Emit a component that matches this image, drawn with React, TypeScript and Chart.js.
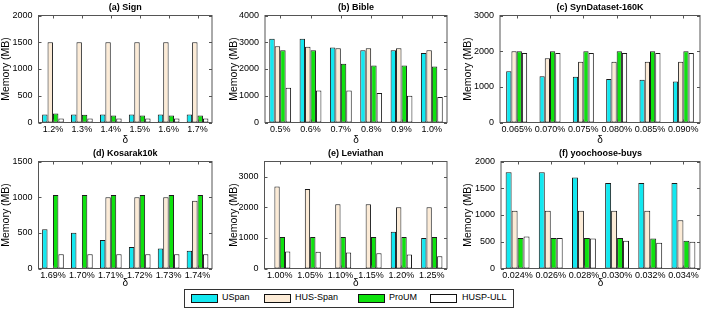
import React, { useEffect, useRef } from 'react';
import { Chart, registerables } from 'chart.js';

Chart.register(...registerables);

const FONT = "'Liberation Sans', Arial, Helvetica, sans-serif";

const seriesNames = ['USpan', 'HUS-Span', 'ProUM', 'HUSP-ULL'];
const seriesColors = ['#12e8f0', '#fcebd6', '#0ee20e', '#ffffff'];

// (a) Sign
const signLabels = ['1.2%', '1.3%', '1.4%', '1.5%', '1.6%', '1.7%'];
const signTicks = [0, 500, 1000, 1500, 2000];
const signUSpan = [150, 150, 150, 150, 150, 150];
const signHUSSpan = [1500, 1500, 1500, 1500, 1500, 1500];
const signProUM = [170, 145, 130, 130, 130, 130];
const signHUSPULL = [75, 75, 75, 75, 75, 75];

// (b) Bible
const bibleLabels = ['0.5%', '0.6%', '0.7%', '0.8%', '0.9%', '1.0%'];
const bibleTicks = [0, 1000, 2000, 3000, 4000];
const bibleUSpan = [3130, 3130, 2800, 2700, 2700, 2600];
const bibleHUSSpan = [2850, 2830, 2780, 2780, 2780, 2700];
const bibleProUM = [2700, 2700, 2200, 2130, 2130, 2090];
const bibleHUSPULL = [1300, 1200, 1200, 1100, 1000, 950];

// (c) SynDataset-160K
const synLabels = ['0.065%', '0.070%', '0.075%', '0.080%', '0.085%', '0.090%'];
const synTicks = [0, 1000, 2000, 3000];
const synUSpan = [1440, 1300, 1280, 1220, 1200, 1150];
const synHUSSpan = [2000, 1800, 1700, 1700, 1700, 1700];
const synProUM = [2000, 2000, 2000, 2000, 2000, 2000];
const synHUSPULL = [1950, 1950, 1950, 1950, 1950, 1950];

// (d) Kosarak10k
const kosLabels = ['1.69%', '1.70%', '1.71%', '1.72%', '1.73%', '1.74%'];
const kosTicks = [0, 500, 1000, 1500];
const kosUSpan = [550, 500, 400, 300, 280, 250];
const kosHUSSpan = [0, 0, 1000, 1000, 1000, 950];
const kosProUM = [1030, 1030, 1030, 1030, 1030, 1030];
const kosHUSPULL = [200, 200, 200, 200, 200, 200];

// (e) Leviathan
const levLabels = ['1.00%', '1.05%', '1.10%', '1.15%', '1.20%', '1.25%'];
const levTicks = [0, 1000, 2000, 3000];
const levUSpan = [0, 0, 0, 0, 1200, 1000];
const levHUSSpan = [2680, 2600, 2100, 2100, 2000, 2000];
const levProUM = [1030, 1030, 1030, 1030, 1030, 1030];
const levHUSPULL = [560, 550, 520, 500, 460, 400];

// (f) yoochoose-buys
const yooLabels = ['0.024%', '0.026%', '0.028%', '0.030%', '0.032%', '0.034%'];
const yooTicks = [0, 500, 1000, 1500, 2000];
const yooUSpan = [1800, 1800, 1700, 1600, 1600, 1600];
const yooHUSSpan = [1080, 1080, 1080, 1080, 1080, 900];
const yooProUM = [570, 570, 570, 570, 560, 520];
const yooHUSPULL = [600, 570, 560, 520, 480, 500];

const boxPlugin = {
  id: 'matlabBox',
  afterDatasetsDraw(chart: any) {
    const { ctx, chartArea, scales } = chart;
    const { left, right, top, bottom } = chartArea;
    ctx.save();
    ctx.strokeStyle = '#555';
    ctx.lineWidth = 1;
    ctx.beginPath();
    const y = scales.y;
    y.ticks.forEach((t: any) => {
      const py = Math.round(y.getPixelForValue(t.value)) + 0.5;
      ctx.moveTo(left, py);
      ctx.lineTo(left + 3, py);
      ctx.moveTo(right, py);
      ctx.lineTo(right - 3, py);
    });
    const x = scales.x;
    x.ticks.forEach((_t: any, i: number) => {
      const px = Math.round(x.getPixelForTick(i)) + 0.5;
      ctx.moveTo(px, top);
      ctx.lineTo(px, top + 3);
      ctx.moveTo(px, bottom);
      ctx.lineTo(px, bottom - 3);
    });
    ctx.stroke();
    ctx.strokeRect(left, top, right - left, bottom - top);
    ctx.restore();
  },
};

type PanelProps = {
  title: string;
  labels: string[];
  series: number[][];
  yMax: number;
  yTicks: number[];
  left: number;
  top: number;
  width: number;
  height: number;
  yWidth: number;
  padRight: number;
  xHeight: number;
  deltaPad: number;
  catPct: number;
};

function Panel(p: PanelProps) {
  const ref = useRef<HTMLCanvasElement | null>(null);
  useEffect(() => {
    if (!ref.current) return;
    const chart = new Chart(ref.current, {
      type: 'bar',
      data: {
        labels: p.labels,
        datasets: p.series.map((d, i) => ({
          label: seriesNames[i],
          data: d,
          backgroundColor: seriesColors[i],
          borderColor: '#1a1a1a',
          borderWidth: 1,
          borderSkipped: false,
          categoryPercentage: p.catPct,
          barPercentage: 1,
        })),
      },
      options: {
        responsive: false,
        maintainAspectRatio: false,
        animation: false,
        devicePixelRatio: 1,
        layout: { padding: { left: 0, right: p.padRight, top: 0, bottom: 0 } },
        plugins: {
          legend: { display: false },
          tooltip: { enabled: false },
          title: {
            display: true,
            text: p.title,
            fullSize: false,
            color: '#000',
            font: { family: FONT, size: 9, weight: 'bold', lineHeight: 1.2 },
            padding: { top: 2, bottom: 2.7 },
          },
        },
        scales: {
          x: {
            grid: { display: false, drawTicks: false },
            border: { display: false },
            ticks: {
              color: '#000',
              font: { family: FONT, size: 9 },
              padding: 2,
              maxRotation: 0,
              autoSkip: false,
            },
            title: {
              display: true,
              text: 'δ',
              color: '#000',
              font: { family: FONT, size: 10, lineHeight: 1 },
              padding: { top: 0, bottom: p.deltaPad },
            },
            afterFit: (s: any) => {
              s.height = p.xHeight;
            },
          },
          y: {
            min: 0,
            max: p.yMax,
            grid: { display: false, drawTicks: false },
            border: { display: false },
            afterBuildTicks: (s: any) => {
              s.ticks = p.yTicks.map((v) => ({ value: v }));
            },
            ticks: {
              color: '#000',
              font: { family: FONT, size: 9 },
              padding: 6,
              callback: (v: any) => String(v),
            },
            title: {
              display: true,
              text: 'Memory (MB)',
              color: '#000',
              font: { family: FONT, size: 10.5, lineHeight: 1.2 },
              padding: { top: 0, bottom: 0 },
            },
            afterFit: (s: any) => {
              s.width = p.yWidth;
            },
          },
        },
      } as any,
      plugins: [boxPlugin],
    });
    return () => chart.destroy();
  }, []);
  return (
    <canvas
      ref={ref}
      width={p.width}
      height={p.height}
      style={{ position: 'absolute', left: p.left, top: p.top, width: p.width, height: p.height }}
    />
  );
}

const legendItems = [
  { swatch: 191, text: 222 },
  { swatch: 264, text: 295 },
  { swatch: 358, text: 389 },
  { swatch: 430, text: 462 },
];

export default function App() {
  const topRow = { top: 0, height: 145, xHeight: 22.5, deltaPad: 0 };
  const botRow = { top: 146, height: 144, xHeight: 21.5, deltaPad: 1.5 };
  return (
    <div style={{ position: 'absolute', left: 0, top: 0, width: 713, height: 313, background: '#fff', overflow: 'hidden' }}>
      <Panel title="(a) Sign" labels={signLabels} series={[signUSpan, signHUSSpan, signProUM, signHUSPULL]}
        yMax={2000} yTicks={signTicks} left={0} width={235} yWidth={38.5} padRight={23} catPct={0.75} {...topRow} />
      <Panel title="(b) Bible" labels={bibleLabels} series={[bibleUSpan, bibleHUSSpan, bibleProUM, bibleHUSPULL]}
        yMax={4000} yTicks={bibleTicks} left={228} width={235} yWidth={37} padRight={16} catPct={0.72} {...topRow} />
      <Panel title="(c) SynDataset-160K" labels={synLabels} series={[synUSpan, synHUSSpan, synProUM, synHUSPULL]}
        yMax={3000} yTicks={synTicks} left={462} width={251} yWidth={38} padRight={13} catPct={0.63} {...topRow} />
      <Panel title="(d) Kosarak10k" labels={kosLabels} series={[kosUSpan, kosHUSSpan, kosProUM, kosHUSPULL]}
        yMax={1500} yTicks={kosTicks} left={0} width={235} yWidth={38.5} padRight={23} catPct={0.75} {...botRow} />
      <Panel title="(e) Leviathan" labels={levLabels} series={[levUSpan, levHUSSpan, levProUM, levHUSPULL]}
        yMax={3500} yTicks={levTicks} left={228} width={235} yWidth={36.5} padRight={16} catPct={0.7} {...botRow} />
      <Panel title="(f) yoochoose-buys" labels={yooLabels} series={[yooUSpan, yooHUSSpan, yooProUM, yooHUSPULL]}
        yMax={2000} yTicks={yooTicks} left={462} width={251} yWidth={39} padRight={13} catPct={0.72} {...botRow} />
      <div style={{ position: 'absolute', left: 184, top: 289, width: 328, height: 17, border: '1px solid #333', background: '#fff' }} />
      {legendItems.map((it, i) => (
        <React.Fragment key={seriesNames[i]}>
          <div style={{ position: 'absolute', left: it.swatch, top: 294, width: 25, height: 7, background: seriesColors[i], border: '1px solid #111' }} />
          <div style={{ position: 'absolute', left: it.text, top: 292, fontFamily: FONT, fontSize: 9, lineHeight: '11px', color: '#000', whiteSpace: 'nowrap' }}>{seriesNames[i]}</div>
        </React.Fragment>
      ))}
    </div>
  );
}
